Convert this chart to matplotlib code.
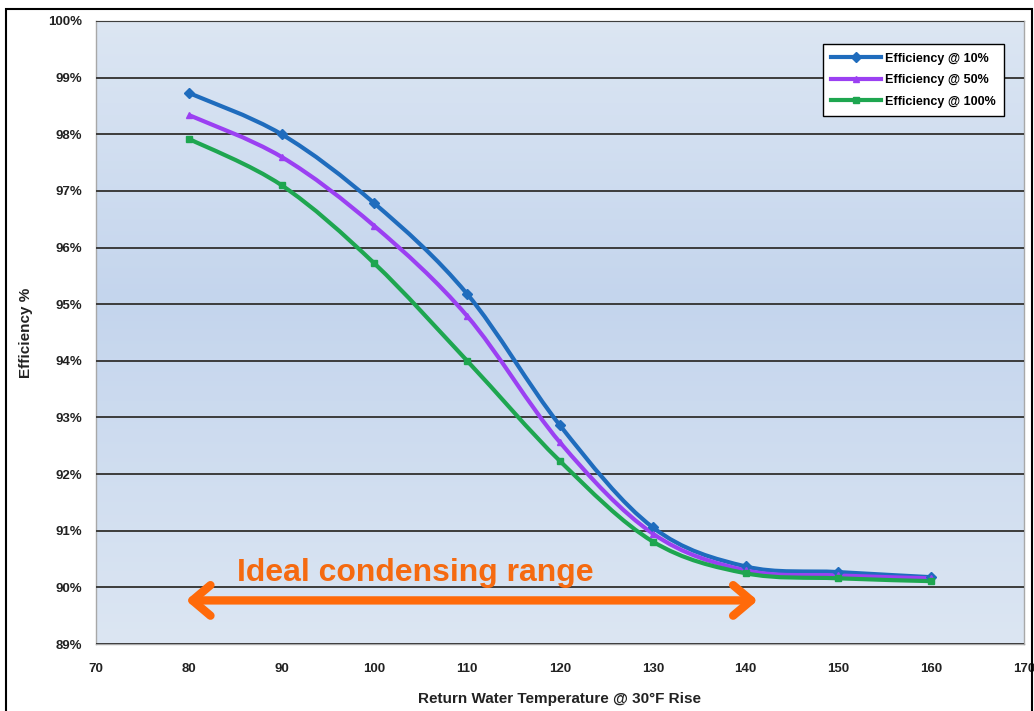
import numpy as np
import matplotlib.pyplot as plt
from matplotlib.path import Path
from matplotlib.patches import PathPatch, Rectangle
from matplotlib.ticker import FuncFormatter

# Data
temps = [80, 90, 100, 110, 120, 130, 140, 150, 160]
eff_10 = [98.73, 98.00, 96.78, 95.18, 92.86, 91.06, 90.37, 90.27, 90.18]
eff_50 = [98.34, 97.60, 96.38, 94.79, 92.56, 90.95, 90.30, 90.21, 90.16]
eff_100 = [97.92, 97.10, 95.72, 94.00, 92.23, 90.81, 90.25, 90.16, 90.11]
labels = ["Efficiency @ 10%", "Efficiency @ 50%", "Efficiency @ 100%"]
colors = ["#1f6cbd", "#9b40f2", "#1ea650"]
markers = ["D", "^", "s"]

range_start, range_end = 80, 141
range_label = "Ideal condensing range"

plt.rcParams["font.family"] = ["Liberation Sans", "DejaVu Sans"]

fig = plt.figure(figsize=(10.34, 7.11), dpi=100)
ax = fig.add_axes([0.0928, 0.0942, 0.8975, 0.8763])

ax.set_xlim(70, 170)
ax.set_ylim(89, 100)

# Excel-style vertical gradient background
top = np.array([220, 230, 243]) / 255
mid = np.array([196, 213, 237]) / 255
yy = np.linspace(0, 1, 256)
cols = np.empty((256, 1, 3))
for i, t in enumerate(yy):
    if t < 0.55:
        f = t / 0.55
        cols[i, 0] = top * (1 - f) + mid * f
    else:
        f = (t - 0.55) / 0.45
        cols[i, 0] = mid * (1 - f) + top * f
ax.imshow(cols, extent=[70, 170, 100, 89], aspect="auto", zorder=0)


def smooth_path(x, y):
    # Catmull-Rom -> cubic bezier, like Excel's smoothed line
    x = np.asarray(x, float)
    y = np.asarray(y, float)
    n = len(x)
    verts = [(x[0], y[0])]
    codes = [Path.MOVETO]
    for i in range(n - 1):
        p0 = i - 1 if i > 0 else i
        p3 = i + 2 if i + 2 < n else i + 1
        c1 = (x[i] + (x[i + 1] - x[p0]) / 6, y[i] + (y[i + 1] - y[p0]) / 6)
        c2 = (x[i + 1] - (x[p3] - x[i]) / 6, y[i + 1] - (y[p3] - y[i]) / 6)
        verts += [c1, c2, (x[i + 1], y[i + 1])]
        codes += [Path.CURVE4] * 3
    return Path(verts, codes)


for ys, lab, c, m in zip([eff_10, eff_50, eff_100], labels, colors, markers):
    ax.add_patch(PathPatch(smooth_path(temps, ys), fill=False, edgecolor=c,
                           lw=3.0, zorder=4))
    ax.plot(temps, ys, linestyle="none", marker=m, color=c, markersize=5, zorder=5)
    ax.plot([], [], color=c, lw=3.0, marker=m, markersize=5, label=lab)

ax.set_yticks(np.arange(89, 101, 1))
ax.set_xticks(np.arange(70, 171, 10))
ax.yaxis.set_major_formatter(FuncFormatter(lambda v, p: f"{v:.0f}%"))
ax.grid(axis="y", color="#3c3c3c", lw=1.4, zorder=1)
ax.set_axisbelow(False)
ax.tick_params(length=0, labelsize=9.5)
for lab in ax.get_xticklabels() + ax.get_yticklabels():
    lab.set_fontweight("bold")
    lab.set_color("#222222")
ax.tick_params(axis="x", pad=14)
ax.tick_params(axis="y", pad=10)
for s in ax.spines.values():
    s.set_color("#a8a8a8")
    s.set_linewidth(1.0)

ax.set_xlabel("Return Water Temperature @ 30°F Rise", fontsize=11, fontweight="bold",
              labelpad=12, color="#222222")
ax.set_ylabel("Efficiency %", fontsize=11, fontweight="bold", labelpad=11, color="#222222")

leg = ax.legend(loc="upper right", bbox_to_anchor=(0.9785, 0.963), fontsize=9,
                frameon=True, fancybox=False, framealpha=1, edgecolor="black",
                handlelength=4.0, handletextpad=0.25, borderpad=0.7,
                labelspacing=0.75, borderaxespad=0)
leg.get_frame().set_linewidth(1.0)
for t in leg.get_texts():
    t.set_fontweight("bold")

# condensing range arrow
ax.annotate("", xy=(range_start - 0.3, 89.77), xytext=(range_end + 0.3, 89.77),
            arrowprops=dict(arrowstyle="<->,head_length=1.3,head_width=1.1",
                            color="#ff6a0a", lw=6, shrinkA=0, shrinkB=0),
            zorder=6)
ax.text(104.4, 90.12, range_label, color="#f56a10", fontsize=23, fontweight="bold",
        ha="center", va="baseline", zorder=6,
        family=["Liberation Sans Narrow", "Liberation Sans", "DejaVu Sans"])

fig.patches.append(Rectangle((0.006, -0.01), 0.992, 0.998, transform=fig.transFigure,
                             fill=False, edgecolor="black", lw=1.5))

plt.savefig("out.png", dpi=100)
